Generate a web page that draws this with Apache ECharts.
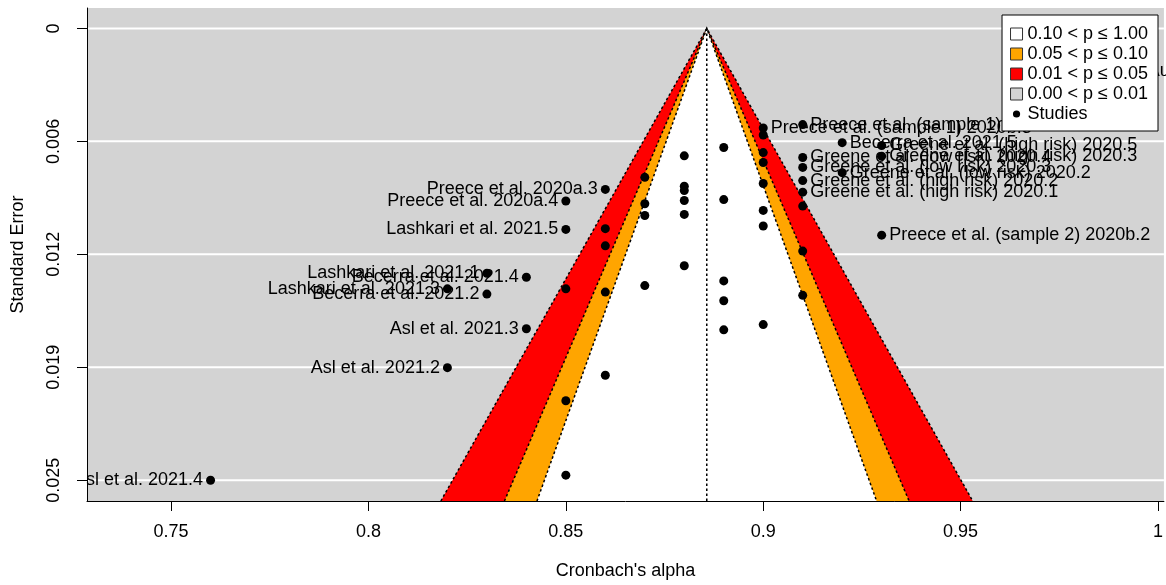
<!DOCTYPE html>
<html><head><meta charset="utf-8">
<script src="https://cdn.jsdelivr.net/npm/echarts@6/dist/echarts.min.js"></script>
<style>html,body{margin:0;padding:0;background:#fff}#c{width:1166px;height:585px}</style>
</head><body><div id="c"></div>
<script>
// ---- data ----
const pooledAlpha = 0.8857;
const contourNames = ['0.01 < p ≤ 0.05', '0.05 < p ≤ 0.10', '0.10 < p ≤ 1.00'];
const contourZ = [2.576, 1.960, 1.645];
const contourColors = ['#ff0000', '#ffa500', '#ffffff'];
const grayName = '0.00 < p ≤ 0.01';
const xTickValues = [0.75, 0.8, 0.85, 0.9, 0.95, 1];
const xTickLabels = ['0.75', '0.8', '0.85', '0.9', '0.95', '1'];
const yTickValues = [0, 0.00625, 0.0125, 0.01875, 0.025];
const yTickLabels = ['0', '0.006', '0.012', '0.019', '0.025'];

const studyAlpha = [0.76, 0.82, 0.84, 0.86, 0.85, 0.85, 0.83, 0.84, 0.82, 0.83,
  0.85, 0.88, 0.89, 0.87, 0.88, 0.88, 0.88, 0.89, 0.87, 0.87,
  0.88, 0.86, 0.86, 0.90, 0.90, 0.88, 0.87, 0.86, 0.89, 0.89,
  0.90, 0.89, 0.86, 0.85, 0.85, 0.90, 0.90, 0.90, 0.90, 0.90,
  0.91, 0.91, 0.91, 0.91, 0.91, 0.91, 0.91, 0.93, 0.91, 0.92,
  0.93, 0.93, 0.92, 0.9955];
const studySE = [0.0250, 0.01877, 0.01662, 0.00891, 0.00955, 0.01112, 0.01355, 0.01377, 0.01441, 0.01470,
  0.01441, 0.00705, 0.00659, 0.00824, 0.00873, 0.00897, 0.00952, 0.00947, 0.00970, 0.01035,
  0.01029, 0.01108, 0.01203, 0.01007, 0.01093, 0.01313, 0.01423, 0.01459, 0.01397, 0.01507,
  0.01639, 0.01668, 0.01919, 0.02060, 0.02472, 0.00551, 0.00590, 0.00687, 0.00742, 0.00858,
  0.00983, 0.01232, 0.01477, 0.00714, 0.00769, 0.00842, 0.00906, 0.01144, 0.00532, 0.00632,
  0.00648, 0.00707, 0.00798, 0.00237];
const studyLabel = ['Asl et al. 2021.4', 'Asl et al. 2021.2', 'Asl et al. 2021.3', 'Preece et al. 2020a.3',
  'Preece et al. 2020a.4', 'Lashkari et al. 2021.5', 'Lashkari et al. 2021.1', 'Becerra et al. 2021.4',
  'Lashkari et al. 2021.3', 'Becerra et al. 2021.2',
  '', '', '', '', '', '', '', '', '', '',
  '', '', '', '', '', '', '', '', '', '',
  '', '', '', '', '', 'Preece et al. (sample 1) 2020b.3', '', '', '', '',
  '', '', '', 'Greene et al. (low risk) 2020.4', 'Greene et al. (low risk) 2020.3',
  'Greene et al. (high risk) 2020.2', 'Greene et al. (high risk) 2020.1',
  'Preece et al. (sample 2) 2020b.2', 'Preece et al. (sample 1) 2020b.2', 'Becerra et al. 2021.5',
  'Greene et al. (high risk) 2020.5', 'Greene et al. (high risk) 2020.3', 'Greene et al. (low risk) 2020.2',
  'Au et al. 2021'];

// ---- chart ----
const FONT = "'Liberation Sans', Arial, sans-serif";
const TXT = '#000';
const xMin = 0.7287, xMax = 1.0015;
const yMin = -0.00113, yMax = 0.02615;

const chart = echarts.init(document.getElementById('c'), null, {renderer: 'canvas'});

function pickLabel(values, labels, v) {
  let best = 0;
  for (let i = 1; i < values.length; i++) if (Math.abs(values[i] - v) < Math.abs(values[best] - v)) best = i;
  return labels[best];
}

const series = [];
// gray region + white grid lines (drawn under funnel)
series.push({
  name: grayName, type: 'custom', z: 1, silent: true,
  itemStyle: {color: '#d3d3d3'},
  data: yTickValues.map(v => [v]),
  renderItem: function (params, api) {
    const cs = params.coordSys;
    const y = api.coord([xMin, api.value(0)])[1];
    return {type: 'line', shape: {x1: cs.x, y1: y, x2: cs.x + cs.width, y2: y},
      style: {stroke: '#ffffff', lineWidth: 2}};
  }
});
contourZ.forEach(function (z, i) {
  series.push({
    name: contourNames[i], type: 'custom', z: 2, silent: true,
    itemStyle: {color: contourColors[i]},
    data: [[z]],
    renderItem: function (params, api) {
      const zz = api.value(0);
      const top = api.coord([pooledAlpha, 0]);
      const bl = api.coord([pooledAlpha - zz * yMax, yMax]);
      const br = api.coord([pooledAlpha + zz * yMax, yMax]);
      return {type: 'group', children: [
        {type: 'polygon', shape: {points: [bl, top, br]}, style: {fill: contourColors[i], stroke: null}},
        {type: 'polyline', shape: {points: [bl, top, br]},
          style: {fill: null, stroke: '#000', lineWidth: 1.5, lineDash: [2.5, 2.5]}}
      ]};
    }
  });
});
// reference line
series.push({
  name: 'ref', type: 'line', z: 3, silent: true, symbol: 'none',
  data: [[pooledAlpha, 0], [pooledAlpha, yMax]],
  lineStyle: {color: '#000', width: 1.5, type: [2.5, 2.5]}
});
// studies
series.push({
  name: 'Studies', type: 'scatter', z: 4, symbol: 'circle', symbolSize: 9,
  itemStyle: {color: '#000', opacity: 1},
  data: studyAlpha.map(function (a, i) {
    return {
      value: [a, studySE[i]], name: studyLabel[i],
      label: {show: studyLabel[i] !== '', position: a < pooledAlpha ? 'left' : 'right',
        distance: 3, formatter: '{b}', fontSize: 18, color: TXT, fontFamily: FONT, opacity: 1}
    };
  })
});

const option = {
  animation: false,
  textStyle: {fontFamily: FONT},
  grid: {left: 87, right: 0, top: 8, bottom: 81, show: true, backgroundColor: '#d3d3d3', borderWidth: 0},
  xAxis: {
    type: 'value', min: xMin, max: xMax, z: 10,
    name: "Cronbach's alpha", nameLocation: 'middle', nameGap: 61,
    nameTextStyle: {fontSize: 18, color: TXT, fontFamily: FONT},
    axisLine: {show: true, onZero: false, lineStyle: {color: '#000', width: 1}},
    axisTick: {show: true, length: 10, inside: false, customValues: xTickValues, lineStyle: {color: '#000'}},
    axisLabel: {show: true, margin: 22, fontSize: 18, color: TXT, fontFamily: FONT, customValues: xTickValues,
      hideOverlap: false, showMaxLabel: true,
      formatter: function (v) { return pickLabel(xTickValues, xTickLabels, v); }},
    splitLine: {show: false}
  },
  yAxis: {
    type: 'value', min: yMin, max: yMax, inverse: true, z: 10,
    name: 'Standard Error', nameLocation: 'middle', nameGap: 60,
    nameTextStyle: {fontSize: 18, color: TXT, fontFamily: FONT},
    axisLine: {show: true, onZero: false, lineStyle: {color: '#000', width: 1}},
    axisTick: {show: true, length: 10, inside: false, customValues: yTickValues, lineStyle: {color: '#000'}},
    axisLabel: {show: true, margin: 24, rotate: 90, fontSize: 18, color: TXT, fontFamily: FONT, customValues: yTickValues,
      formatter: function (v) { return pickLabel(yTickValues, yTickLabels, v); }},
    splitLine: {show: false}
  },
  legend: {
    orient: 'vertical', right: 8, top: 15, z: 20, selectedMode: false,
    backgroundColor: '#ffffff', borderColor: '#000', borderWidth: 1,
    padding: [10, 10, 8, 8], itemGap: 2, itemWidth: 12, itemHeight: 12, itemTextGap: 8,
    textStyle: {fontSize: 18, color: TXT, fontFamily: FONT},
    data: [
      {name: contourNames[2], icon: 'rect', itemStyle: {color: '#ffffff', borderColor: '#333', borderWidth: 1}},
      {name: contourNames[1], icon: 'rect', itemStyle: {color: '#ffa500', borderColor: '#333', borderWidth: 1}},
      {name: contourNames[0], icon: 'rect', itemStyle: {color: '#ff0000', borderColor: '#333', borderWidth: 1}},
      {name: grayName, icon: 'rect', itemStyle: {color: '#d3d3d3', borderColor: '#333', borderWidth: 1}},
      {name: 'Studies', icon: 'path://M0,0M12,12M9.6,6A3.6,3.6,0,1,1,2.4,6A3.6,3.6,0,1,1,9.6,6Z',
        itemStyle: {color: '#000', borderWidth: 0, opacity: 1}}
    ]
  },
  graphic: [{type: 'rect', z: 5, silent: true, left: 0, top: 0, shape: {width: 86.5, height: 585}, style: {fill: '#ffffff'}}],
  series: series
};
chart.setOption(option);
</script>
</body></html>
